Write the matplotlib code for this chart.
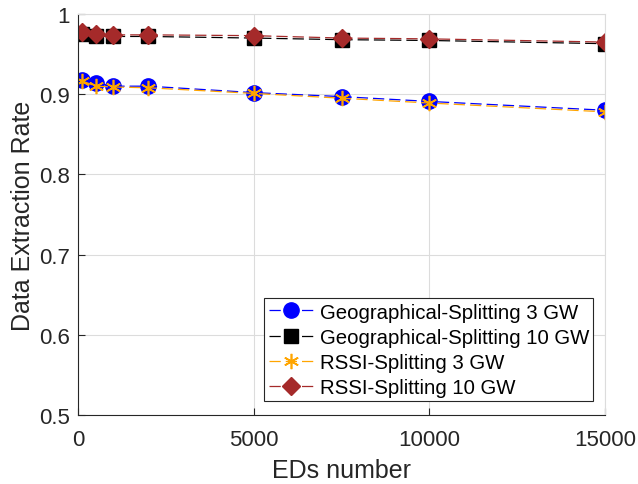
import matplotlib
matplotlib.use("Agg")
import matplotlib.pyplot as plt

plt.rcParams['font.family'] = ['Liberation Sans', 'DejaVu Sans']

eds = [100, 500, 1000, 2000, 5000, 7500, 10000, 15000]
geo3 = [0.918, 0.914, 0.910, 0.910, 0.902, 0.897, 0.891, 0.880]
geo10 = [0.975, 0.973, 0.972, 0.972, 0.970, 0.968, 0.967, 0.963]
rssi3 = [0.917, 0.910, 0.909, 0.908, 0.901, 0.895, 0.889, 0.878]
rssi10 = [0.977, 0.975, 0.974, 0.974, 0.973, 0.970, 0.969, 0.965]
labels = ['Geographical-Splitting 3 GW', 'Geographical-Splitting 10 GW',
          'RSSI-Splitting 3 GW', 'RSSI-Splitting 10 GW']

fig = plt.figure(figsize=(6.38, 4.85), dpi=100)
ax = fig.add_axes([78/638, 1-416/485, (605-78)/638, (416-15)/485])

dash = (9, 4)
ax.plot(eds, geo3, '--', dashes=dash, color='blue', marker='o', markersize=11, lw=0.9,
        markerfacecolor='blue', markeredgecolor='blue', label=labels[0])
ax.plot(eds, geo10, '--', dashes=dash, color='black', marker='s', markersize=9.5, lw=0.9,
        markerfacecolor='black', markeredgecolor='black', label=labels[1])
ax.plot(eds, rssi3, '--', dashes=dash, color='orange', marker=(6, 2, 0), markersize=11, lw=0.9,
        markeredgewidth=1.2, markeredgecolor='orange', label=labels[2])
ax.plot(eds, rssi10, '--', dashes=dash, color='#a52a2a', marker='D', markersize=9, lw=0.9,
        markerfacecolor='#a52a2a', markeredgecolor='#a52a2a', label=labels[3])

ax.set_xlim(0, 15000)
ax.set_ylim(0.5, 1.0)
ax.set_xticks([0, 5000, 10000, 15000])
ax.set_yticks([0.5, 0.6, 0.7, 0.8, 0.9, 1.0])
ax.set_yticklabels(['0.5', '0.6', '0.7', '0.8', '0.9', '1'])
ax.tick_params(direction='in', labelsize=16, length=5, width=0.8, colors='#262626', top=False, right=False)
ax.tick_params(axis='x', pad=10)
ax.tick_params(axis='y', pad=6)
ax.grid(True, color='#dcdcdc', lw=0.8)
ax.set_axisbelow(True)
for s in ['top', 'right']:
    ax.spines[s].set_color('#dcdcdc')
for s in ['left', 'bottom']:
    ax.spines[s].set_color('#262626')
ax.set_xlabel('EDs number', fontsize=18, color='#262626', labelpad=6)
ax.set_ylabel('Data Extraction Rate', fontsize=18, color='#262626', labelpad=3)

leg = ax.legend(loc='lower right', fontsize=14.7, frameon=True, fancybox=False,
                edgecolor='#262626', framealpha=1,
                bbox_to_anchor=(593/638, 1-402/485), bbox_transform=fig.transFigure,
                borderaxespad=0,
                handlelength=2.2, labelspacing=0.3, borderpad=0.2, handletextpad=0.3)
leg.get_frame().set_linewidth(0.8)

fig.savefig('out.png', dpi=100)
